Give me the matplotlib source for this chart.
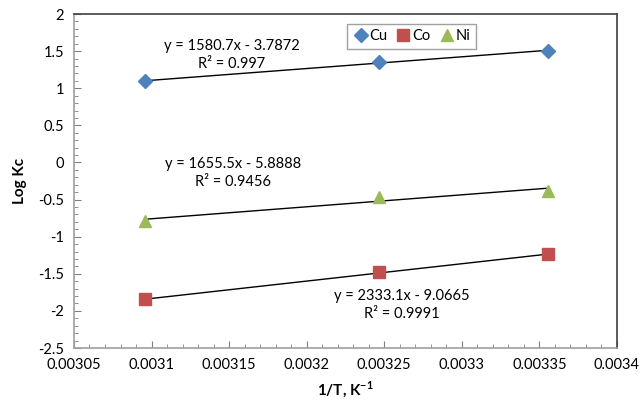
import numpy as np
import matplotlib.pyplot as plt
from matplotlib.ticker import MultipleLocator, FuncFormatter

plt.rcParams['font.family'] = ['Lato', 'DejaVu Sans']
plt.rcParams['mathtext.fontset'] = 'custom'
plt.rcParams['mathtext.rm'] = 'Lato'
plt.rcParams['mathtext.bf'] = 'Lato:bold'

# 1/T for 323, 308, 298 K
inv_T = [1 / 323, 1 / 308, 1 / 298]
log_kc_cu = [1.097, 1.349, 1.506]
log_kc_co = [-1.845, -1.481, -1.239]
log_kc_ni = [-0.790, -0.462, -0.381]

eq_cu = 'y = 1580.7x - 3.7872\nR² = 0.997'
eq_ni = 'y = 1655.5x - 5.8888\nR² = 0.9456'
eq_co = 'y = 2333.1x - 9.0665\nR² = 0.9991'

x_ticks = [0.00305, 0.0031, 0.00315, 0.0032, 0.00325, 0.0033, 0.00335, 0.0034]
y_ticks = [-2.5, -2, -1.5, -1, -0.5, 0, 0.5, 1, 1.5, 2]

fig = plt.figure(figsize=(6.4, 4.04), dpi=100)
ax = fig.add_axes([0.1156, 0.1386, 0.8484, 0.8267])

series = [
    ('Cu', log_kc_cu, 'D', '#4F81BD', 7),
    ('Co', log_kc_co, 's', '#C0504D', 8),
    ('Ni', log_kc_ni, '^', '#9BBB59', 9),
]
xa = np.array(inv_T)
for name, vals, mk, col, ms in series:
    k, b = np.polyfit(xa, vals, 1)
    xs = np.array([xa.min(), xa.max()])
    ax.plot(xs, k * xs + b, color='black', lw=1, zorder=2)
    ax.plot(inv_T, vals, linestyle='none', marker=mk, color=col,
            markersize=ms, label=name, zorder=3)

txt = dict(ha='center', va='center', fontsize=10.5, linespacing=1.3)
ax.text(0.0031518, 1.447, eq_cu, **txt)
ax.text(0.0031525, -0.143, eq_ni, **txt)
ax.text(0.0032614, -1.922, eq_co, **txt)

ax.set_xlim(0.00305, 0.0034)
ax.set_ylim(-2.5, 2)
ax.set_xticks(x_ticks)
ax.set_yticks(y_ticks)
ax.xaxis.set_minor_locator(MultipleLocator(0.00001))
ax.yaxis.set_minor_locator(MultipleLocator(0.1))
fmt = FuncFormatter(lambda v, p: '{:g}'.format(round(v, 6)))
ax.xaxis.set_major_formatter(fmt)
ax.yaxis.set_major_formatter(fmt)
ax.tick_params(which='both', direction='in', colors='#7F7F7F', labelcolor='black',
               labelsize=10.5)
ax.tick_params(which='major', length=5, pad=7)
ax.tick_params(which='minor', length=3)

for s in ['left', 'bottom']:
    ax.spines[s].set_color('#A0A0A0')
for s in ['top', 'right']:
    ax.spines[s].set_color('#404040')
for s in ax.spines.values():
    s.set_linewidth(1.2)

ax.set_xlabel(r'1/T, K$^{\mathbf{-1}}$', fontsize=11, fontweight='bold', labelpad=6)
ax.set_ylabel('Log Kc', fontsize=11, fontweight='bold', labelpad=8)

leg = ax.legend(loc='upper center', bbox_to_anchor=(0.622, 0.993), ncol=3,
                fancybox=False, edgecolor='#A0A0A0', fontsize=10.5,
                handletextpad=0.1, columnspacing=0.6, handlelength=1.0,
                borderpad=0.4, framealpha=1)
leg.get_frame().set_linewidth(1)

plt.savefig('out.png', dpi=100)
